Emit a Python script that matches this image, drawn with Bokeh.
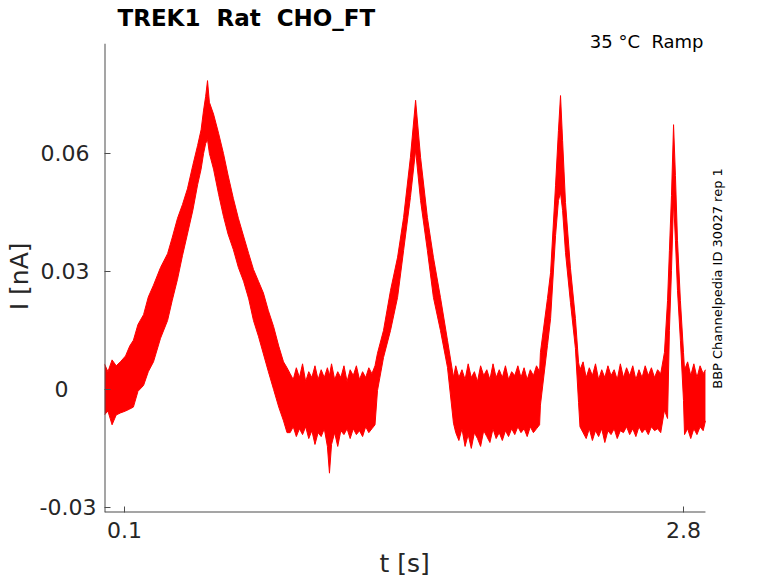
import math
from bokeh.plotting import figure
from bokeh.models import Range1d, FixedTicker, Label, ColumnDataSource, Title
from bokeh.embed import file_html
from bokeh.resources import INLINE

# ---------------- data ----------------
# noisy current trace, given as upper / lower envelope of the noise band
t_peak1 = [0.003, 0.02, 0.04, 0.06, 0.08, 0.105, 0.125, 0.143, 0.165, 0.192, 0.215, 0.240,
           0.274, 0.308, 0.330, 0.356, 0.380, 0.404, 0.430, 0.453, 0.470, 0.482, 0.492, 0.501,
           0.510, 0.530, 0.555, 0.578, 0.600, 0.626, 0.650, 0.675, 0.700, 0.723, 0.747, 0.771,
           0.795, 0.820, 0.845, 0.868, 0.885]
hi_peak1 = [0.0065, 0.0045, 0.0075, 0.0060, 0.0070, 0.0085, 0.0110, 0.0125, 0.0165, 0.0190, 0.0235, 0.0265,
            0.0310, 0.0345, 0.0385, 0.0435, 0.0470, 0.0510, 0.0570, 0.0620, 0.0660, 0.0710, 0.0745, 0.0785,
            0.0730, 0.0700, 0.0650, 0.0600, 0.0545, 0.0485, 0.0435, 0.0390, 0.0345, 0.0305, 0.0275, 0.0245,
            0.0200, 0.0160, 0.0110, 0.0070, 0.0055]
lo_peak1 = [-0.0065, -0.0055, -0.0090, -0.0065, -0.0060, -0.0055, -0.0050, -0.0045, -0.0005, 0.0010, 0.0045, 0.0070,
            0.0130, 0.0175, 0.0225, 0.0280, 0.0340, 0.0395, 0.0455, 0.0520, 0.0560, 0.0600, 0.0625, 0.0635,
            0.0600, 0.0560, 0.0495, 0.0440, 0.0395, 0.0355, 0.0310, 0.0275, 0.0230, 0.0175, 0.0135, 0.0090,
            0.0045, 0.0000, -0.0045, -0.0080, -0.0110]

t_flat1 = [0.900, 0.915, 0.930, 0.945, 0.960, 0.975, 0.990, 1.005, 1.020, 1.035, 1.050, 1.065, 1.080, 1.090,
           1.100, 1.115, 1.130, 1.145, 1.160, 1.175, 1.190, 1.205, 1.220, 1.235, 1.250, 1.265, 1.280, 1.295, 1.310]
hi_flat1 = [0.0040, 0.0025, 0.0055, 0.0030, 0.0065, 0.0020, 0.0045, 0.0030, 0.0060, 0.0025, 0.0050, 0.0030, 0.0055, 0.0035,
            0.0065, 0.0025, 0.0045, 0.0030, 0.0060, 0.0020, 0.0050, 0.0035, 0.0060, 0.0025, 0.0045, 0.0030, 0.0055, 0.0040, 0.0060]
lo_flat1 = [-0.0110, -0.0095, -0.0120, -0.0100, -0.0115, -0.0095, -0.0125, -0.0105, -0.0140, -0.0110, -0.0120, -0.0100, -0.0145, -0.0213,
            -0.0140, -0.0110, -0.0145, -0.0105, -0.0115, -0.0100, -0.0125, -0.0100, -0.0115, -0.0105, -0.0120, -0.0095, -0.0110, -0.0100, -0.0090]

t_peak2 = [1.322, 1.351, 1.385, 1.419, 1.448, 1.481, 1.506, 1.530, 1.563, 1.592, 1.626, 1.660, 1.689]
hi_peak2 = [0.0092, 0.0150, 0.0252, 0.0336, 0.0437, 0.0590, 0.0735, 0.0590, 0.0437, 0.0336, 0.0234, 0.0125, 0.0031]
lo_peak2 = [-0.0003, 0.0081, 0.0150, 0.0234, 0.0353, 0.0488, 0.0608, 0.0480, 0.0353, 0.0234, 0.0150, 0.0056, -0.0086]

t_flat2 = [1.700, 1.715, 1.730, 1.745, 1.760, 1.775, 1.790, 1.805, 1.820, 1.835, 1.850, 1.865, 1.880, 1.895,
           1.910, 1.925, 1.940, 1.955, 1.970, 1.985, 2.000, 2.015, 2.030, 2.045, 2.060, 2.075, 2.090, 2.105]
hi_flat2 = [0.0060, 0.0030, 0.0050, 0.0025, 0.0065, 0.0030, 0.0045, 0.0020, 0.0060, 0.0035, 0.0050, 0.0025, 0.0065, 0.0030,
            0.0050, 0.0030, 0.0060, 0.0025, 0.0045, 0.0035, 0.0060, 0.0030, 0.0055, 0.0025, 0.0050, 0.0035, 0.0060, 0.0045]
lo_flat2 = [-0.0110, -0.0130, -0.0100, -0.0145, -0.0115, -0.0150, -0.0110, -0.0125, -0.0145, -0.0105, -0.0120, -0.0135, -0.0100, -0.0125,
            -0.0110, -0.0130, -0.0105, -0.0120, -0.0100, -0.0115, -0.0095, -0.0110, -0.0100, -0.0120, -0.0095, -0.0110, -0.0100, -0.0090]

t_peak3 = [2.109, 2.143, 2.158, 2.182, 2.196, 2.206, 2.216, 2.230, 2.254, 2.278, 2.293]
hi_peak3 = [0.0094, 0.0231, 0.0297, 0.0519, 0.0658, 0.0747, 0.0633, 0.0475, 0.0308, 0.0180, 0.0069]
lo_peak3 = [-0.0040, 0.0112, 0.0180, 0.0391, 0.0480, 0.0500, 0.0455, 0.0348, 0.0221, 0.0104, -0.0033]

t_flat3 = [2.300, 2.315, 2.330, 2.345, 2.360, 2.375, 2.390, 2.405, 2.420, 2.435, 2.450, 2.465, 2.480, 2.495,
           2.510, 2.525, 2.540, 2.555, 2.570, 2.585, 2.600, 2.615, 2.630, 2.645, 2.660, 2.675, 2.690]
hi_flat3 = [0.0050, 0.0070, 0.0030, 0.0055, 0.0035, 0.0065, 0.0025, 0.0050, 0.0030, 0.0060, 0.0035, 0.0050, 0.0025, 0.0065,
            0.0030, 0.0055, 0.0035, 0.0060, 0.0025, 0.0050, 0.0030, 0.0060, 0.0035, 0.0055, 0.0030, 0.0050, 0.0040]
lo_flat3 = [-0.0095, -0.0110, -0.0125, -0.0100, -0.0130, -0.0105, -0.0120, -0.0100, -0.0135, -0.0105, -0.0115, -0.0100, -0.0125, -0.0105,
            -0.0110, -0.0095, -0.0115, -0.0100, -0.0120, -0.0095, -0.0110, -0.0100, -0.0115, -0.0095, -0.0105, -0.0100, -0.0110]

t_peak4 = [2.708, 2.723, 2.732, 2.742, 2.752, 2.761, 2.771, 2.785, 2.800]
hi_peak4 = [0.0094, 0.0226, 0.0353, 0.0493, 0.0673, 0.0544, 0.0379, 0.0226, 0.0094]
lo_peak4 = [-0.0053, -0.0074, 0.0150, 0.0302, 0.0480, 0.0379, 0.0252, 0.0125, -0.0028]

t_flat4 = [2.805, 2.820, 2.835, 2.850, 2.865, 2.880, 2.895, 2.906]
hi_flat4 = [0.0050, 0.0070, 0.0035, 0.0065, 0.0030, 0.0060, 0.0040, 0.0050]
lo_flat4 = [-0.0115, -0.0100, -0.0125, -0.0100, -0.0115, -0.0095, -0.0105, -0.0080]

x_ticks = [0.1, 2.8]
x_tick_labels = ["0.1", "2.8"]
y_ticks = [-0.03, 0, 0.03, 0.06]
y_tick_labels = ["-0.03", "0", "0.03", "0.06"]

x_axis_start, x_axis_end = 0.0034, 2.906     # extent of the drawn axis lines
y_axis_start, y_axis_end = -0.0313, 0.0879

title_text = "TREK1  Rat  CHO_FT"
cond_text = "35 °C  Ramp"
side_text = "BBP Channelpedia ID 30027 rep 1"
x_label = "t [s]"
y_label = "I [nA]"

# ---------------- layout (pixels) ----------------
W, H = 778, 583
FL, FB = 104, 512                     # frame left / bottom on the canvas
kx = (x_ticks[1] - x_ticks[0]) / (683 - 124)   # seconds per pixel
ky = (y_ticks[3] - y_ticks[0]) / (507 - 153)   # nA per pixel
x_lo = x_axis_start
x_hi = x_lo + (W - FL) * kx
y_lo = y_axis_start
y_hi = y_lo + FB * ky


def keep_spaces(s):
    # SVG collapses runs of spaces; keep the double spaces visible
    return s.replace("  ", " \u00a0")


FONT = "DejaVu Sans"
TXT = "#262626"
AX = "#4d4d4d"

t_all = t_peak1 + t_flat1 + t_peak2 + t_flat2 + t_peak3 + t_flat3 + t_peak4 + t_flat4
hi_all = hi_peak1 + hi_flat1 + hi_peak2 + hi_flat2 + hi_peak3 + hi_flat3 + hi_peak4 + hi_flat4
lo_all = lo_peak1 + lo_flat1 + lo_peak2 + lo_flat2 + lo_peak3 + lo_flat3 + lo_peak4 + lo_flat4

p = figure(width=W, height=H, output_backend="svg", toolbar_location=None, title=None,
           x_range=Range1d(x_lo, x_hi), y_range=Range1d(y_lo, y_hi),
           min_border_left=FL, min_border_right=0, min_border_top=0, min_border_bottom=H - FB)
p.outline_line_color = None
p.background_fill_color = "white"
p.border_fill_color = "white"
p.xgrid.visible = False
p.ygrid.visible = False

src = ColumnDataSource(dict(t=t_all, hi=hi_all, lo=lo_all))
p.varea(x="t", y1="lo", y2="hi", source=src, fill_color="#ff0000")
p.line(x="t", y="hi", source=src, line_color="#ff0000", line_width=1)
p.line(x="t", y="lo", source=src, line_color="#ff0000", line_width=1)

# spines (only as long as in the reference)
p.segment(x0=[x_axis_start, x_axis_start], y0=[y_axis_start, y_axis_start],
          x1=[x_axis_end, x_axis_start], y1=[y_axis_start, y_axis_end],
          line_color=AX, line_width=2)

for ax in (p.xaxis[0], p.yaxis[0]):
    ax.axis_line_color = None
    ax.major_tick_line_color = AX
    ax.major_tick_in = 6
    ax.major_tick_out = 0
    ax.minor_tick_line_color = None
    ax.major_label_text_font = FONT
    ax.major_label_text_color = TXT
    ax.major_label_text_font_size = "22px"
    ax.axis_label_text_font = FONT
    ax.axis_label_text_font_style = "normal"
    ax.axis_label_text_color = TXT
    ax.axis_label_text_font_size = "25px"

p.xaxis.ticker = FixedTicker(ticks=x_ticks)
p.xaxis.major_label_overrides = {v: s for v, s in zip(x_ticks, x_tick_labels)}
p.xaxis.major_label_standoff = 9

# x label centred under the drawn axis line (not under the wider frame)
x_label_width = 50
p.add_layout(Title(text=x_label, align="left", offset=404 - FL - x_label_width // 2, standoff=12,
                   vertical_align="bottom",
                   text_font=FONT, text_font_style="normal", text_font_size="25px",
                   text_color=TXT), "below")

# tick labels look centred in the reference: pad with figure / punctuation spaces
pads = {"-0.03": "", "0": "\u2007\u2007", "0.03": "\u2008", "0.06": "\u2008"}
p.yaxis.ticker = FixedTicker(ticks=y_ticks)
p.yaxis.major_label_overrides = {v: s + pads[s] for v, s in zip(y_ticks, y_tick_labels)}
p.yaxis.major_label_standoff = 8
# centred on the drawn spine (the frame reaches higher): trailing figure spaces
p.yaxis.axis_label = y_label + "\u2007\u2007\u2008"
p.yaxis.axis_label_standoff = 3

# title and annotations (inside the frame, which reaches the canvas top and right edge)
p.add_layout(Label(x=x_lo, y=y_hi, x_offset=117 - FL, y_offset=-17, text=keep_spaces(title_text),
                   text_align="left", text_baseline="middle",
                   text_font=FONT, text_font_style="bold", text_font_size="23px", text_color="black"))
p.add_layout(Label(x=x_lo, y=y_hi, x_offset=703 - FL, y_offset=-41, text=keep_spaces(cond_text),
                   text_align="right", text_baseline="middle",
                   text_font=FONT, text_font_size="18px", text_color="black"))
p.add_layout(Label(x=x_lo, y=y_hi, x_offset=717 - FL, y_offset=-278, text=side_text,
                   angle=math.pi / 2, text_align="center", text_baseline="middle",
                   text_font=FONT, text_font_size="13px", text_color="black"))

open("out.html", "w").write(file_html(p, INLINE))
